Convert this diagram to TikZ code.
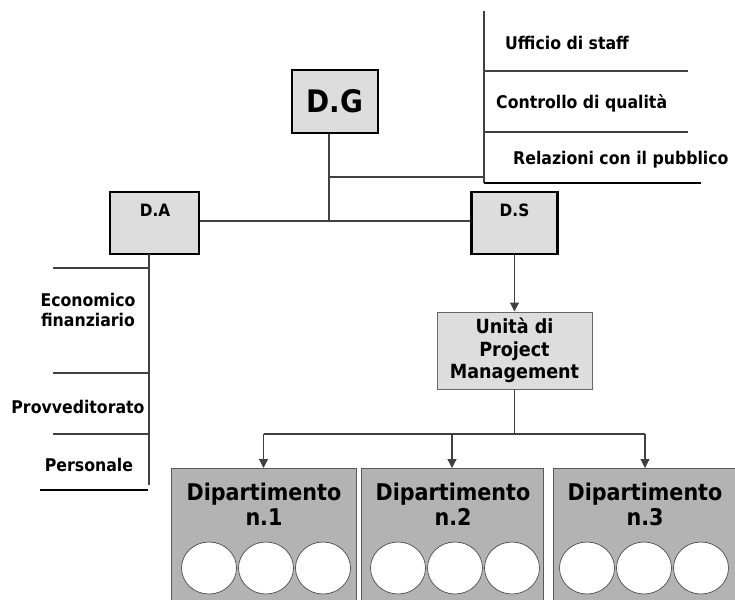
\documentclass[tikz,border=0pt]{standalone}
\usepackage{fontspec}
\setmainfont{DejaVu Sans Condensed}
\usetikzlibrary{arrows.meta,calc,shapes.geometric}
\definecolor{boxgray}{HTML}{DDDDDD}
\definecolor{deptgray}{HTML}{B3B3B3}
\definecolor{lngray}{HTML}{404040}
\tikzset{
  topbox/.style={draw=black,line width=2.6pt,fill=boxgray,inner sep=0pt},
  pmbox/.style={draw=gray!80!black,line width=1pt,fill=boxgray,inner sep=0pt},
  deptbox/.style={draw=black!65,line width=0.8pt,fill=deptgray,inner sep=0pt,minimum width=184,minimum height=135},
  memb/.style={ellipse,draw=black!70,line width=0.7pt,fill=white,minimum width=55,minimum height=52,inner sep=0pt},
  ln/.style={draw=lngray,line width=1.1pt},
  arr/.style={ln,-{Triangle[length=9pt,width=9pt]}},
  lbl/.style={font=\bfseries\fontsize{17.5}{20}\selectfont,inner sep=0pt},
  dtxt/.style={font=\bfseries\fontsize{23}{25}\selectfont,align=center,inner sep=0pt},
  btxt/.style={font=\bfseries\fontsize{17}{20}\selectfont,inner sep=0pt},
}
\begin{document}
\begin{tikzpicture}[x=1pt,y=-1pt]
\useasboundingbox (0,0) rectangle (735,599);
\clip (0,0) rectangle (735,599);
% top boxes
\node[topbox,minimum width=86,minimum height=63,font=\bfseries\fontsize{31}{36}\selectfont] (DG) at (335,101.5) {D.G};
\node[topbox,minimum width=89,minimum height=62] (DA) at (154.5,223) {};
\node[topbox,minimum width=86,minimum height=62] (DS) at (514.5,223) {};
\node[btxt] (DAt) at (155,210) {D.A};
\node[btxt] (DSt) at (514.5,210) {D.S};
% junctions
\coordinate (j1) at (329,221);
\coordinate (j2) at (329,177);
\coordinate (s0) at (484,177);
\coordinate (stop) at (484,11);
\coordinate (sbot) at (484,183);
\draw[ln] (DG.south -| j1) -- (j1);
\draw[ln] (DA.east |- j1) -- (DS.west |- j1);
\draw[ln] (j2) -- (s0);
\draw[ln] (stop) -- (sbot);
% staff lines
\coordinate (st1) at (688,71);
\coordinate (st2) at (688,132);
\coordinate (st3) at (701,183);
\draw[ln] (stop |- st1) -- (st1);
\draw[ln] (stop |- st2) -- (st2);
\draw[ln,draw=black] (sbot) -- (st3);
\node[lbl,anchor=west] (uff) at (505,43) {Ufficio di staff};
\node[lbl,anchor=west] (ctr) at (496,103) {Controllo di qualità};
\node[lbl,anchor=west] (rel) at (513,160) {Relazioni con il pubblico};
% DA staff
\coordinate (da0) at (149,254);
\coordinate (da1) at (149,485);
\draw[ln] (da0) -- (da1);
\coordinate (l1) at (53,268);
\coordinate (l2) at (53,373);
\coordinate (l3) at (53,434);
\coordinate (l4) at (40,490);
\draw[ln] (l1) -- (l1 -| da0);
\draw[ln] (l2) -- (l2 -| da0);
\draw[ln] (l3) -- (l3 -| da0);
\draw[ln,draw=black,line width=1.4pt] (l4) -- (148,490);
\node[lbl,align=center] (eco) at (88,310) {Economico\\finanziario};
\node[lbl] (prov) at (78,407) {Provveditorato};
\node[lbl] (pers) at (89,465) {Personale};
% PM
\node[pmbox,minimum width=155,minimum height=77,align=center,font=\bfseries\fontsize{19.5}{22.5}\selectfont] (PM) at (514.5,350.5) {Unità di\\Project\\Management};
\draw[arr] (DS.south -| PM.north) -- (PM.north);
% departments
\node[deptbox,anchor=north,minimum width=185] (D1) at (263.5,468) {};
\node[deptbox,anchor=north,minimum width=182] (D2) at (452,468) {};
\node[deptbox,anchor=north,minimum width=186] (D3) at (646,468) {};
\coordinate (hb) at (514.5,434);
\draw[ln] (PM.south) -- (hb);
\draw[ln] (D1.north |- hb) -- (645,434);
\draw[arr] (D1.north |- hb) -- (D1.north);
\draw[arr] (D2.north |- hb) -- (D2.north);
\draw[arr] (645,434) -- (645,468);
\node[dtxt] (D1t) at (264,504) {Dipartimento\\n.1};
\node[dtxt] (D2t) at (453,504) {Dipartimento\\n.2};
\node[dtxt] (D3t) at (645,504) {Dipartimento\\n.3};
\foreach \c [count=\i] in {266,455,644}{
  \node[memb] (c\i a) at (\c-57,568) {};
  \node[memb] (c\i b) at (\c,568) {};
  \node[memb] (c\i c) at (\c+57,568) {};
}
\end{tikzpicture}
\end{document}
